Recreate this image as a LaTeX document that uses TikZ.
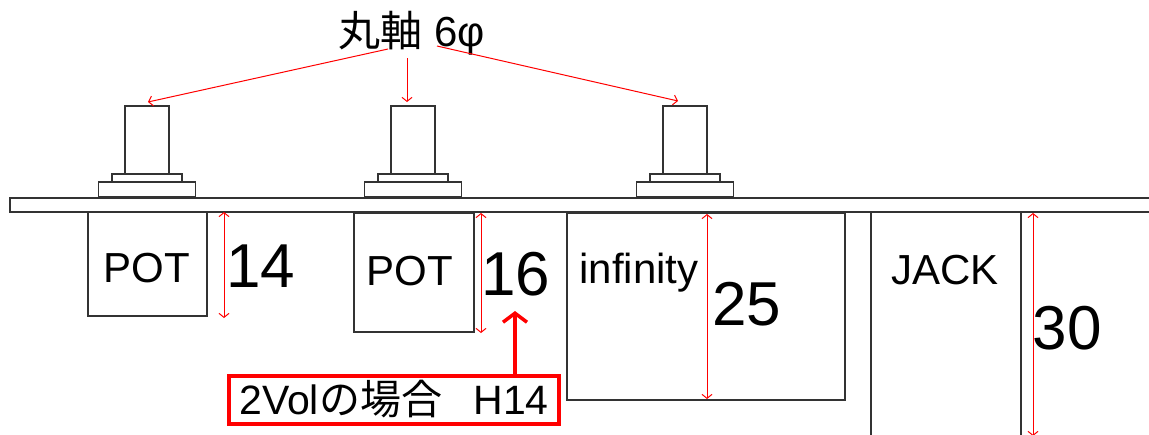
\documentclass[tikz,border=0pt]{standalone}
\usepackage{fontspec}
\setmainfont{Liberation Sans}
\newfontfamily\cjk{Noto Sans CJK JP}
\usetikzlibrary{positioning,arrows.meta}
\definecolor{partline}{rgb}{0.2,0.2,0.2}
\newcommand{\fs}[1]{\fontsize{#1}{#1}\selectfont}
\tikzset{
  part/.style={draw=partline,line width=1.3pt,fill=white,inner sep=0pt,outer sep=0pt},
  dimline/.style={{Straight Barb[length=4pt,width=10pt]}-{Straight Barb[length=4pt,width=10pt]},red,line width=1pt},
  noteline/.style={-{Straight Barb[length=4pt,width=10pt]},red,line width=1pt},
  partlabel/.style={font=\fs{42},inner sep=0pt},
  dimlabel/.style={font=\fs{62},inner sep=0pt}
}
\begin{document}
\begin{tikzpicture}[x=1pt,y=-1pt]
  \path[use as bounding box,clip] (0,0) rectangle (1149,434);
  % panel and shafts
  \node[part,minimum width=1160pt,minimum height=14pt] (panel) at (590,205) {};
  \foreach \i/\x in {1/147,2/413,3/685} {
    \node[part,minimum width=97pt,minimum height=15pt] (base\i) at (\x,189.5) {};
    \node[part,minimum width=70pt,minimum height=8pt,above=0pt of base\i] (washer\i) {};
    \node[part,minimum width=44pt,minimum height=68pt,above=0pt of washer\i] (shaft\i) {};
  }
  % parts under the panel
  \node[part,minimum width=119pt,minimum height=104pt] (pot1) at (147.5,264) {};
  \node[part,minimum width=120pt,minimum height=119pt] (pot2) at (414,272.5) {};
  \node[part,minimum width=278pt,minimum height=187pt] (infinity) at (706,306.5) {};
  \node[part,minimum width=150pt,minimum height=240pt] (jack) at (946,332) {};
  \node[partlabel] (potlabel1) at (147,268) {POT};
  \node[partlabel] (potlabel2) at (410,271) {POT};
  \node[partlabel] (inflabel) at (639,273) {infinity};
  \node[partlabel] (jacklabel) at (945,270) {JACK};
  % dimensions
  \foreach \n/\x/\a/\b in {1/224/212/318,2/481/213/333,3/707/214/399,4/1033/213/436} {
    \coordinate (dimtop\n) at (\x,\a);
    \coordinate (dimbot\n) at (\x,\b);
    \draw[dimline] (dimtop\n) -- (dimbot\n);
  }
  \node[dimlabel] (dim14) at (261,266) {14};
  \node[dimlabel] (dim16) at (516,274) {16};
  \node[dimlabel] (dim25) at (747,304) {25};
  \node[dimlabel] (dim30) at (1067,328) {30};
  % top note
  \node[inner sep=0pt,font=\fs{42}] (title) at (412,33) {{\cjk 丸軸} 6φ};
  \coordinate (tl) at (388,49);
  \coordinate (tm) at (407,58);
  \coordinate (tr) at (437,46);
  \coordinate (el) at (148,102);
  \coordinate (em) at (407,102);
  \coordinate (er) at (678,101);
  \draw[noteline] (tl) -- (el);
  \draw[noteline] (tm) -- (em);
  \draw[noteline] (tr) -- (er);
  % bottom note
  \node[draw=red,line width=4pt,fill=white,inner sep=0pt,minimum width=330pt,minimum height=48pt,font=\fs{41}] (note) at (394,399.5) {2Vol{\cjk の場合}\hspace{0.6em}\,H14};
  \coordinate (notetip) at (515,311);
  \coordinate (notefoot) at (515,374);
  \draw[-{Straight Barb[length=9pt,width=24pt]},red,line width=3.5pt] (notefoot) -- (notetip);
\end{tikzpicture}
\end{document}
